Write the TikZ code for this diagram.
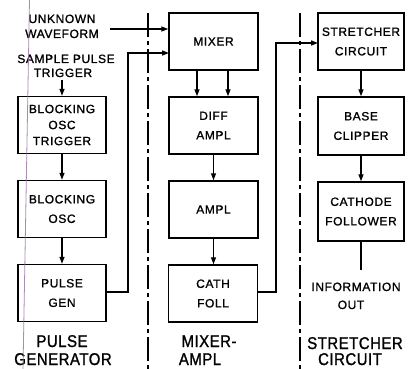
\documentclass[tikz,border=0pt]{standalone}
\usepackage{fontspec}
\setmainfont{Liberation Sans}[LetterSpace=5,FakeBold=1.2]
\newfontfamily\bigfont{Liberation Sans}[FakeStretch=0.88,LetterSpace=3,FakeBold=1.2]
\usetikzlibrary{arrows.meta}
\definecolor{scancol}{RGB}{150,110,160}
\tikzset{
 blk/.style={draw, line width=1.4pt, minimum width=88pt, minimum height=57pt, inner sep=0pt, align=center, font=\fontsize{12}{19.5}\selectfont},
 arr/.style={line width=1.3pt, -{Triangle[width=5pt,length=7pt]}},
 wire/.style={line width=1.3pt},
 divider/.style={line width=2pt, dash pattern=on 24pt off 4pt on 4pt off 4pt},
 lbl/.style={font=\fontsize{12}{15}\selectfont, inner sep=0pt, anchor=base},
 biglbl/.style={font=\bigfont\fontsize{17}{20}\selectfont, inner sep=0pt, anchor=base},
 scan/.style={draw=scancol, line width=0.8pt, opacity=0.8},
}
\begin{document}
\begin{tikzpicture}[x=1pt,y=-1pt]
\useasboundingbox (0,0) rectangle (413,369);
% boxes
\node[blk, font=\fontsize{12}{16}\selectfont] (trig) at (62,125) {BLOCKING\\OSC\\TRIGGER};
\node[blk] (bosc) at (62,209) {BLOCKING\\OSC};
\node[blk] (pgen) at (62,293) {PULSE\\GEN};
\node[blk, minimum width=89pt] (mixer) at (213.5,41.5) {MIXER};
\node[blk, minimum width=89pt] (diff) at (213.5,125.5) {DIFF\\AMPL};
\node[blk, minimum width=89pt] (ampl) at (213.5,209.5) {AMPL};
\node[blk, minimum width=89pt] (cath) at (213,293.5) {CATH\\FOLL};
\node[blk, minimum width=86pt] (str) at (361,41.5) {STRETCHER\\CIRCUIT};
\node[blk, minimum width=86pt, minimum height=58pt] (base) at (361,126) {BASE\\CLIPPER};
\node[blk, minimum width=86pt, minimum height=59pt] (cf) at (361,211.5) {CATHODE\\FOLLOWER};
% labels
\node[lbl] (uw1) at (62,23) {UNKNOWN};
\node[lbl] (uw2) at (62,38) {WAVEFORM};
\node[lbl] (sp1) at (66,63) {SAMPLE PULSE};
\node[lbl] (sp2) at (63,77) {TRIGGER};
\node[lbl] (io1) at (356,291) {INFORMATION};
\node[lbl] (io2) at (351,309) {OUT};
\node[biglbl] (g1) at (62,347) {PULSE};
\node[biglbl] (g2) at (63,365) {GENERATOR};
\node[biglbl] (m1) at (209,347) {MIXER-};
\node[biglbl] (m2) at (200,365) {AMPL};
\node[biglbl] (s1) at (355,349) {STRETCHER};
\node[biglbl] (s2) at (350,365) {CIRCUIT};
% dividers
\coordinate (d1t) at (148,13); \coordinate (d1b) at (148,369);
\coordinate (d2t) at (300,13); \coordinate (d2b) at (300,369);
\draw[divider] (d1t) -- (d1b);
\draw[divider] (d2t) -- (d2b);
% connectors
\coordinate (uwin) at (110,29);
\draw[arr] (uwin) -- (uwin -| mixer.west);
\coordinate (spout) at (62,80);
\draw[arr] (spout) -- (spout |- trig.north);
\draw[arr] (trig) -- (bosc);
\draw[arr] (bosc) -- (pgen);
\coordinate (fb) at (128,292);
\coordinate (mx2) at (169,53);
\draw[arr] (pgen.east |- fb) -- (fb) |- (mx2);
\draw[arr] ([xshift=-16.5pt]mixer.south) -- ([xshift=-16.5pt]diff.north);
\draw[arr] ([xshift=14.5pt]mixer.south) -- ([xshift=14.5pt]diff.north);
\draw[arr] (diff.south) -- (diff.south |- ampl.north);
\draw[arr] (ampl.south) -- (ampl.south |- cath.north);
\coordinate (co) at (276,292);
\coordinate (si) at (318,43);
\draw[arr] (cath.east |- co) -- (co) |- (si);
\draw[arr] (str) -- (base);
\draw[arr] (base) -- (cf);
\coordinate (out) at (361,270);
\draw[wire] (cf) -- (out);
% scan artefact
\draw[scan] (29.5,0) -- (23,369);
\end{tikzpicture}
\end{document}
